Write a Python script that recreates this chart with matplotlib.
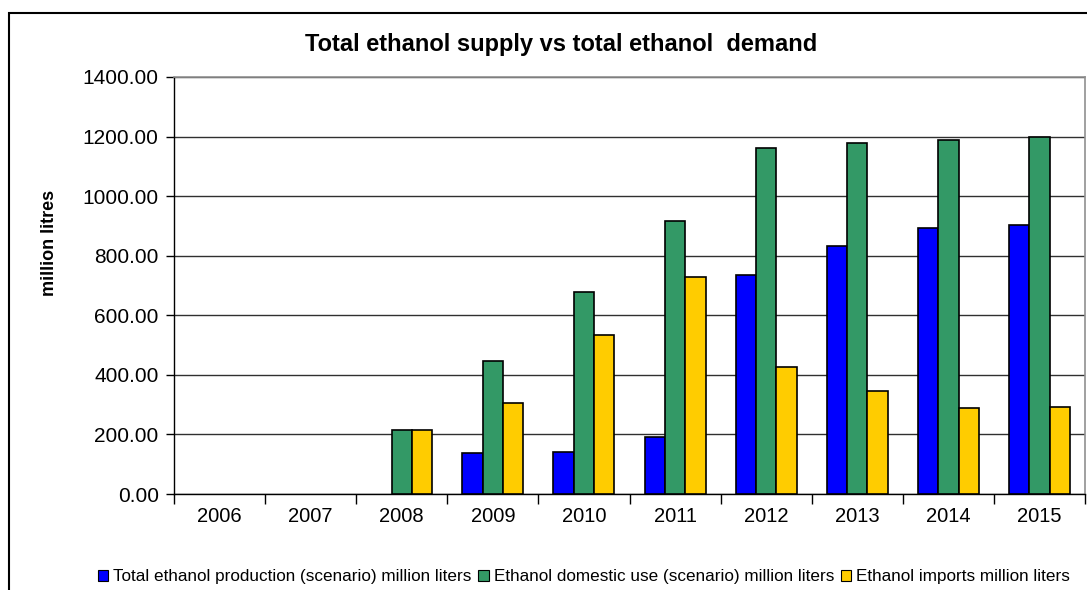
import matplotlib
matplotlib.use("Agg")
import matplotlib.pyplot as plt
import numpy as np
from matplotlib.patches import Rectangle

years = ["2006", "2007", "2008", "2009", "2010", "2011", "2012", "2013", "2014", "2015"]
production = [0, 0, 0, 136, 141, 192, 734, 831, 892, 902]
domestic_use = [0, 0, 216, 448, 677, 918, 1162, 1180, 1189, 1199]
imports = [0, 0, 216, 304, 534, 728, 427, 345, 288, 293]
series_names = ["Total ethanol production (scenario) million liters",
                "Ethanol domestic use (scenario) million liters",
                "Ethanol imports million liters"]
colors = ["#0000FF", "#339966", "#FFCC00"]
title = "Total ethanol supply vs total ethanol  demand"
ylabel = "million litres"

plt.rcParams['font.family'] = ['Liberation Sans', 'DejaVu Sans']

fig = plt.figure(figsize=(10.87, 5.90), dpi=100)
ax = fig.add_axes([174/1087, 1-494/590, (1085-174)/1087, (494-77)/590])

x = np.arange(len(years))
w = 0.223
for i, (vals, c, name) in enumerate(zip([production, domestic_use, imports], colors, series_names)):
    vals = np.array(vals, dtype=float)
    mask = vals > 0
    ax.bar(x[mask] + (i - 1) * w, vals[mask], width=w, color=c, edgecolor="black",
           linewidth=1.2, label=name, zorder=3)

ax.set_xlim(-0.5, len(years) - 0.5)
ax.set_ylim(0, 1400)
ax.set_yticks(np.arange(0, 1401, 200))
ax.set_yticklabels([f"{v:.2f}" for v in np.arange(0, 1401, 200)], fontsize=15)
ax.yaxis.grid(True, color="#303030", linewidth=1.0, zorder=0)
ax.set_xticks(x)
ax.set_xticklabels(years, fontsize=14.5)
ax.set_xticks(np.arange(-0.5, len(years), 1), minor=True)
ax.tick_params(axis="x", which="major", length=0, pad=9)
ax.tick_params(axis="x", which="minor", length=7, width=1, color="black", direction="out")
ax.tick_params(axis="y", length=6, width=1, direction="out", pad=5)
for s in ["left", "bottom"]:
    ax.spines[s].set_color("black")
    ax.spines[s].set_linewidth(1.0)
for s in ["top", "right"]:
    ax.spines[s].set_color("#909090")
    ax.spines[s].set_linewidth(1.2)

fig.text(561/1087, 1 - 45/590, title, ha="center", va="center", fontsize=17, fontweight="bold")
fig.text(49/1087, 1 - 243/590, ylabel, ha="center", va="center", rotation=90,
         fontsize=13, fontweight="bold")

leg = fig.legend(loc="center", bbox_to_anchor=(584/1087, 1 - 577/590), ncol=3, frameon=False,
                 fontsize=12.3, handlelength=0.6, handleheight=0.6, handletextpad=0.3,
                 columnspacing=0.4, borderpad=0)
for h in leg.legend_handles:
    h.set_linewidth(0.8)

fig.patches.append(Rectangle((8.5/1087, -0.05), 1.2, 1 - 13/590 + 0.05,
                             transform=fig.transFigure, fill=False, edgecolor="black",
                             linewidth=1.5))
fig.savefig("out.png", dpi=100)
